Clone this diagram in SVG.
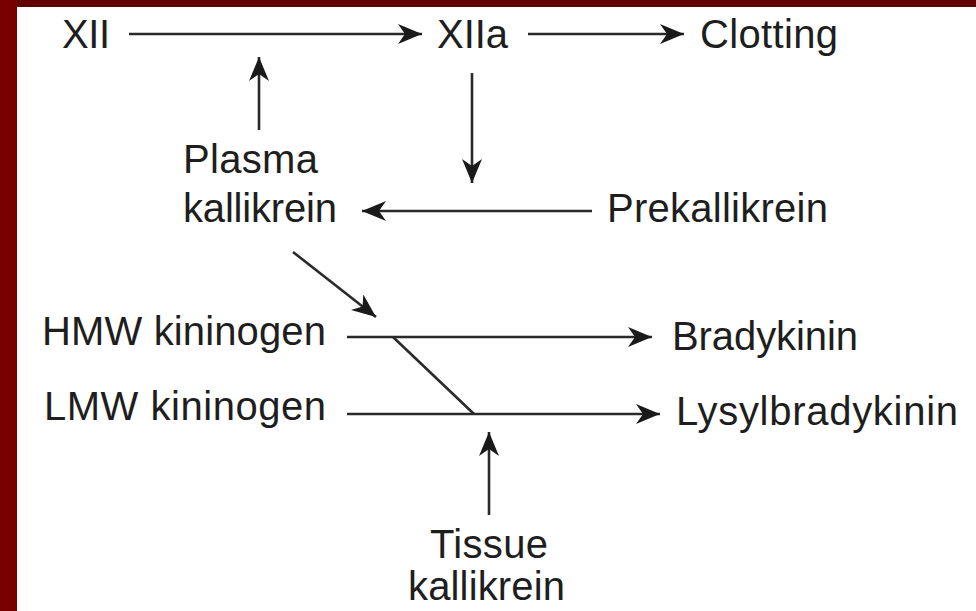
<svg xmlns="http://www.w3.org/2000/svg" width="976" height="611" viewBox="0 0 976 611">
<style>
text{font-family:"Liberation Sans",Arial,sans-serif;font-size:40px;fill:#1e1e1e}
.c line{stroke:#2a2a2a;stroke-width:2.6;fill:none}
</style>
<defs>
<marker id="ah" viewBox="0 0 24 20" refX="24" refY="10" markerWidth="24" markerHeight="20" markerUnits="userSpaceOnUse" orient="auto">
<path d="M0,0 L24,10 L0,20 L7,10 Z" fill="#1a1a1a"/>
</marker>
</defs>
<rect x="0" y="0" width="976" height="611" fill="#ffffff"/>
<rect x="0" y="0" width="976" height="7" fill="#600000"/>
<rect x="0" y="0" width="17" height="611" fill="#780000"/>
<g id="n-xii"><text x="62" y="48" textLength="48" lengthAdjust="spacing">XII</text></g>
<g id="n-xiia"><text x="437" y="48" textLength="71" lengthAdjust="spacing">XIIa</text></g>
<g id="n-clotting"><text x="700" y="48" textLength="138" lengthAdjust="spacing">Clotting</text></g>
<g id="n-plasma"><text x="183" y="173" textLength="135" lengthAdjust="spacing">Plasma</text><text x="183" y="222" textLength="154" lengthAdjust="spacing">kallikrein</text></g>
<g id="n-prekallikrein"><text x="607" y="222" textLength="221" lengthAdjust="spacing">Prekallikrein</text></g>
<g id="n-hmw"><text x="42" y="345" textLength="284" lengthAdjust="spacing">HMW kininogen</text></g>
<g id="n-lmw"><text x="44" y="420" textLength="282" lengthAdjust="spacing">LMW kininogen</text></g>
<g id="n-bradykinin"><text x="672" y="350" textLength="186" lengthAdjust="spacing">Bradykinin</text></g>
<g id="n-lysyl"><text x="676" y="425" textLength="282" lengthAdjust="spacing">Lysylbradykinin</text></g>
<g id="n-tissue"><text x="430" y="558" textLength="118" lengthAdjust="spacing">Tissue</text><text x="408" y="600" textLength="157" lengthAdjust="spacing">kallikrein</text></g>
<g id="connectors" class="c">
<line x1="129" y1="34" x2="422" y2="34" marker-end="url(#ah)"/>
<line x1="528" y1="34" x2="684" y2="34" marker-end="url(#ah)"/>
<line x1="259" y1="130" x2="259" y2="57" marker-end="url(#ah)"/>
<line x1="472" y1="73" x2="472" y2="183" marker-end="url(#ah)"/>
<line x1="592" y1="211" x2="362" y2="211" marker-end="url(#ah)"/>
<line x1="293" y1="252" x2="376" y2="317" marker-end="url(#ah)"/>
<line x1="347" y1="337" x2="652" y2="337" marker-end="url(#ah)"/>
<line x1="347" y1="414" x2="660" y2="414" marker-end="url(#ah)"/>
<line x1="393" y1="337" x2="474" y2="414"/>
<line x1="489" y1="515" x2="489" y2="432" marker-end="url(#ah)"/>
</g>
</svg>
